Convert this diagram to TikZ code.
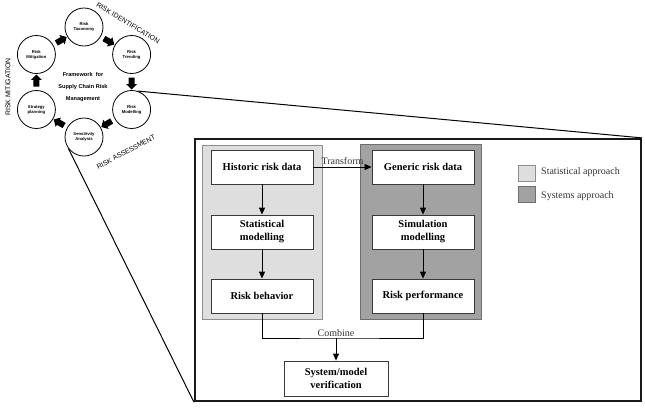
\documentclass[tikz,border=0pt]{standalone}
\usepackage{fontspec}
\setmainfont{Liberation Serif}
\newfontfamily\scmsans{Liberation Sans}
\usetikzlibrary{shapes.arrows,arrows.meta,calc}
\definecolor{scmStat}{HTML}{DEDEDE}
\definecolor{scmStatEdge}{HTML}{8E8E8E}
\definecolor{scmSys}{HTML}{A2A2A2}
\definecolor{scmSysEdge}{HTML}{6E6E6E}
\definecolor{scmEdge}{HTML}{3A3A3A}
\tikzset{
  scmcycle/.style={circle,draw=black,line width=0.8pt,minimum size=38pt,inner sep=0pt,
                   align=center,font=\scmsans\bfseries\fontsize{4.2}{5}\selectfont},
  scmturn/.style={single arrow,fill=black,minimum height=12pt,inner sep=2.8pt,
                  single arrow head extend=2.4pt,single arrow head indent=0pt},
  scmphase/.style={font=\scmsans\fontsize{6.9}{8}\selectfont,inner sep=0pt},
  scmpanel/.style={line width=1pt,inner sep=0pt},
  scmstep/.style={draw=scmEdge,fill=white,line width=0.8pt,minimum width=102pt,minimum height=34pt,
                  align=center,inner sep=1pt,font=\bfseries\fontsize{10.5}{13}\selectfont},
  scmflow/.style={-{Triangle[length=7pt,width=6pt]},line width=0.9pt},
  scmlbl/.style={font=\fontsize{10}{11}\selectfont,text=black!80,inner sep=1pt},
  scmkey/.style={draw=scmSysEdge,line width=0.6pt,minimum width=17pt,minimum height=16pt,inner sep=0pt},
}
\begin{document}
\begin{tikzpicture}[x=1pt,y=-1pt]
  \useasboundingbox (0,0) rectangle (645,408);

  % Framework cycle, top left.
  \node[scmcycle] (tax)  at (84,27)     {Risk\\Taxonomy};
  \node[scmcycle] (trd)  at (131.6,54.5) {Risk\\Trending};
  \node[scmcycle] (mod)  at (131.6,109.5) {Risk\\Modelling};
  \node[scmcycle] (sens) at (84,137)    {Sensitivity\\Analysis};
  \node[scmcycle] (strat) at (36.4,109.5) {Strategy\\planning};
  \node[scmcycle] (mit)  at (36.4,54.5)  {Risk\\Mitigation};
  \node[align=center,font=\scmsans\bfseries\fontsize{5.6}{12}\selectfont] (core) at (83,87)
        {Framework\ \ for\\Supply Chain Risk\\Management};

  \node[scmturn,rotate=30]   (t1) at ($(mit)!0.5!(tax)$)   {};
  \node[scmturn,rotate=-30]  (t2) at ($(tax)!0.5!(trd)$)   {};
  \node[scmturn,rotate=-90]  (t3) at ($(trd)!0.5!(mod)$)   {};
  \node[scmturn,rotate=-150] (t4) at ($(mod)!0.5!(sens)$)  {};
  \node[scmturn,rotate=150]  (t5) at ($(sens)!0.5!(strat)$) {};
  \node[scmturn,rotate=90]   (t6) at ($(strat)!0.5!(mit)$) {};

  \node[scmphase,rotate=-31] (pid) at (128,23)  {RISK IDENTIFICATION};
  \node[scmphase,rotate=90]  (pmi) at (8,87)    {RISK MITIGATION};
  \node[scmphase,rotate=28]  (pas) at (126,152) {RISK ASSESSMENT};

  % Zoomed detail of the modelling step.
  \node[draw=black!90,line width=2.2pt,minimum width=446pt,minimum height=262pt,inner sep=0pt]
        (frame) at (418,270) {};
  \draw[line width=1pt] (mod.72) -- (frame.north east);
  \draw[line width=1pt] (sens.217) -- (frame.south west);

  \node[scmpanel,draw=scmStatEdge,fill=scmStat,minimum width=120pt,minimum height=174pt] (stat) at (262,232) {};
  \node[scmpanel,draw=scmSysEdge,fill=scmSys,minimum width=121pt,minimum height=175pt] (sys) at (420.5,231.5) {};

  \node[scmstep] (hist) at (262,167) {Historic risk data};
  \node[scmstep] (smod) at (262,232) {Statistical\\modelling};
  \node[scmstep] (beh)  at (262,296) {Risk behavior};
  \node[scmstep] (gen)  at (423,167) {Generic risk data};
  \node[scmstep] (sim)  at (423,232) {Simulation\\modelling};
  \node[scmstep] (perf) at (423,296) {Risk performance};
  \node[scmstep,minimum width=104pt,minimum height=35pt] (ver) at (336,378.5) {System/model\\verification};

  \draw[scmflow] (hist) -- (smod);
  \draw[scmflow] (smod) -- (beh);
  \draw[scmflow] (gen) -- (sim);
  \draw[scmflow] (sim) -- (perf);
  \draw[scmflow] (hist) -- node[scmlbl,above,yshift=1pt]{Transform} (gen);

  \coordinate (join) at (336,338);
  \draw[line width=0.9pt] (beh.south) |- (join) -| (perf.south);
  \node[scmlbl,above] (comb) at (join) {Combine};
  \draw[scmflow] (join) -- (ver.north);

  % Legend.
  \node[scmkey,draw=scmStatEdge,fill=scmStat] (kstat) at (526.5,173.5) {};
  \node[scmkey,fill=scmSys] (ksys) at (526.5,194.5) {};
  \node[scmlbl,anchor=west] (lstat) at (540,172) {Statistical approach};
  \node[scmlbl,anchor=west] (lsys) at (540,196) {Systems approach};
\end{tikzpicture}
\end{document}
